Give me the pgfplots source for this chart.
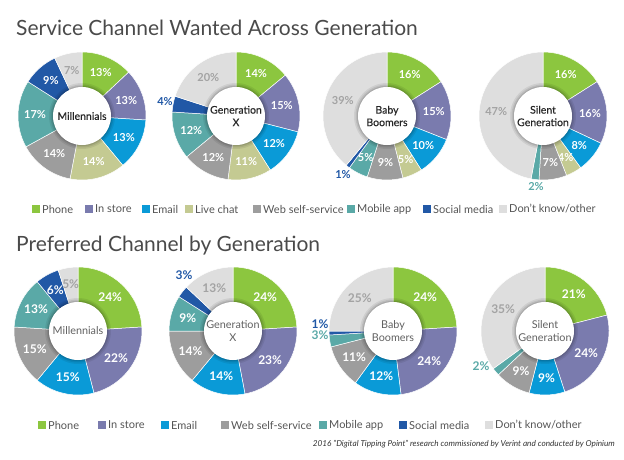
\documentclass[border=0pt]{standalone}
\usepackage{pgfplots}
\pgfplotsset{compat=1.18}
\usepackage{pgfplotstable}
\usepackage{fontspec}
\setmainfont{Lato}

\definecolor{phonec}{HTML}{8CC63F}
\definecolor{storec}{HTML}{7A7BAE}
\definecolor{emailc}{HTML}{0A9AD7}
\definecolor{chatc}{HTML}{C4CA92}
\definecolor{webc}{HTML}{9D9D9D}
\definecolor{mobc}{HTML}{5AA9A7}
\definecolor{socc}{HTML}{2158A6}
\definecolor{dkc}{HTML}{DEDEDE}
\definecolor{labgray}{HTML}{A3A3A3}
\definecolor{titlec}{HTML}{4A4A4A}
\definecolor{legc}{HTML}{555555}

% Service channel wanted (percent)
\pgfplotstableread{
ch       col    lab     out mill genx boom silent
Phone    phonec white   0   13   14   16   16
Instore  storec white   0   13   15   15   16
Email    emailc white   0   13   12   10   8
Livechat chatc  white   0   14   11   5    4
Web      webc   white   0   14   12   9    7
Mobile   mobc   white   1   17   12   5    2
Social   socc   white   1   9    4    1    0
DK       dkc    labgray 0   7    20   39   47
}\wanted

% Preferred channel (percent)
\pgfplotstableread{
ch       col    lab     out mill genx boom silent
Phone    phonec white   0   24   24   24   21
Instore  storec white   0   22   23   24   24
Email    emailc white   0   15   14   12   9
Web      webc   white   0   15   14   11   9
Mobile   mobc   white   1   13   9    3    2
Social   socc   white   1   6    3    1    0
DK       dkc    labgray 0   5    13   25   35
}\preferred

\newcommand{\labelfont}{\bfseries\fontsize{11}{13}\selectfont}
\newcommand{\centerfont}{\fontsize{12}{13.5}\selectfont}
\newcommand{\centercol}{black!80}

% #1 cx, #2 cy (px from top-left), #3 table, #4 column, #5 centre label, #6 extra labels
\newcommand{\donut}[6]{%
\begin{axis}[at={(#1pt,-#2pt)}, anchor=origin, x=1pt, y=1pt,
  xmin=-70, xmax=70, ymin=-70, ymax=70, hide axis, clip=false]
  \pgfplotstablegetrowsof{#3}\pgfmathtruncatemacro\last{\pgfplotsretval-1}%
  \def\acc{90}%
  \pgfplotsforeachungrouped \i in {0,...,\last}{%
    \pgfplotstablegetelem{\i}{#4}\of{#3}\let\val\pgfplotsretval
    \pgfplotstablegetelem{\i}{col}\of{#3}\let\col\pgfplotsretval
    \pgfplotstablegetelem{\i}{lab}\of{#3}\let\lcol\pgfplotsretval
    \pgfplotstablegetelem{\i}{out}\of{#3}\let\out\pgfplotsretval
    \ifnum\val>0
      \pgfmathsetmacro\aend{\acc-3.6*\val}%
      \pgfmathsetmacro\mid{(\acc+\aend)/2}%
      \edef\temp{\noexpand\fill[\col, draw=white, line width=0.5pt, shift={(axis cs:0,0)}]
        (\acc:64pt) arc[start angle=\acc, end angle=\aend, radius=64pt]
        -- (\aend:26pt) arc[start angle=\aend, end angle=\acc, radius=26pt] -- cycle;}%
      \temp
      \def\showlab{1}%
      \ifnum\out=1 \ifnum\val<5 \def\showlab{0}\fi\fi
      \if1\showlab
        \edef\temp{\noexpand\node[text=\lcol, font=\noexpand\labelfont, inner sep=0pt]
          at ([shift={(\mid:47pt)}]axis cs:0,0) {\val\noexpand\%};}%
        \temp
      \fi
      \let\acc\aend
    \fi
  }
  \fill[black, opacity=0.07] (axis cs:0,0) circle[radius=33pt];
  \fill[black, opacity=0.08] (axis cs:0,0) circle[radius=31.5pt];
  \fill[black, opacity=0.10] (axis cs:0,0) circle[radius=30.2pt];
  \fill[white] (axis cs:0,0) circle[radius=29pt];
  \node[align=center, font=\centerfont, text=\centercol, inner sep=0pt] at (axis cs:0,0) {#5};
  #6
\end{axis}}

\newcommand{\legsq}[4]{% x, y, colour, text
  \fill[#3] (#1pt,-#2pt+4pt) rectangle ++(8pt,-8pt);
  \node[anchor=west, inner sep=0pt, text=legc, font=\fontsize{11}{13}\selectfont] at (#1pt+10pt,-#2pt) {#4};}

\begin{document}
\begin{tikzpicture}
\path[use as bounding box] (0,0) rectangle (624pt,-460pt);

\node[anchor=base west, inner sep=0pt, text=titlec, font=\fontsize{21}{24}\selectfont]
  at (16pt,-36pt) {Service Channel Wanted Across Generation};

\renewcommand{\centerfont}{\fontsize{10.5}{12.5}\selectfont\addfontfeatures{FakeBold=0.3}}
\renewcommand{\centercol}{black!85}
\donut{82}{116}{\wanted}{mill}{Millennials}{}
\donut{236}{116}{\wanted}{genx}{Generation\\X}{\node[text=socc,font=\labelfont] at (axis cs:-71,14) {4\%};}
\donut{387}{116}{\wanted}{boom}{Baby\\Boomers}{\node[text=socc,font=\labelfont] at (axis cs:-44,-59) {1\%};}
\donut{543}{116}{\wanted}{silent}{Silent\\Generation}{\node[text=mobc,font=\labelfont] at (axis cs:-7,-71) {2\%};}

\legsq{32}{209}{phonec}{Phone}
\legsq{85}{209}{storec}{In store}
\legsq{142}{209}{emailc}{Email}
\legsq{185}{209}{chatc}{Live chat}
\legsq{253}{209}{webc}{Web self-service}
\legsq{347}{209}{mobc}{Mobile app}
\legsq{423}{209}{socc}{Social media}
\legsq{499}{209}{dkc}{Don't know/other}

\node[anchor=base west, inner sep=0pt, text=titlec, font=\fontsize{21}{24}\selectfont]
  at (16pt,-251pt) {Preferred Channel by Generation};

\renewcommand{\labelfont}{\bfseries\fontsize{12}{14}\selectfont}
\renewcommand{\centerfont}{\fontsize{10.8}{12.8}\selectfont}
\renewcommand{\centercol}{black!62}
\donut{78}{331}{\preferred}{mill}{Millennials}{}
\donut{233}{331}{\preferred}{genx}{Generation\\X}{\node[text=socc,font=\labelfont] at (axis cs:-49,56) {3\%};}
\donut{393}{331}{\preferred}{boom}{Baby\\Boomers}{\node[text=socc,font=\labelfont] at (axis cs:-73,7) {1\%};
  \node[text=mobc,font=\labelfont] at (axis cs:-73,-4) {3\%};}
\donut{545}{331}{\preferred}{silent}{Silent\\Generation}{\node[text=mobc,font=\labelfont] at (axis cs:-64,-35) {2\%};}

\legsq{38}{425}{phonec}{Phone}
\legsq{98}{425}{storec}{In store}
\legsq{161}{425}{emailc}{Email}
\legsq{221}{425}{webc}{Web self-service}
\legsq{319}{425}{mobc}{Mobile app}
\legsq{399}{425}{socc}{Social media}
\legsq{485}{425}{dkc}{Don't know/other}

\node[anchor=base east, inner sep=0pt, text=black!80, font=\itshape\fontsize{8.2}{10}\selectfont]
  at (615pt,-446pt) {2016 ''Digital Tipping Point'' research commissioned by Verint and conducted by Opinium};
\end{tikzpicture}
\end{document}
